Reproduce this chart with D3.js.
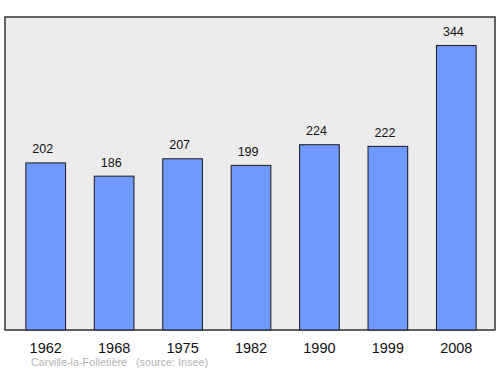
<!DOCTYPE html>
<html>
<head>
<meta charset="utf-8">
<script src="https://cdn.jsdelivr.net/npm/d3@7"></script>
<style>
  body { margin: 0; background: #fff; }
  text { font-family: "Liberation Sans", Arial, sans-serif; }
</style>
</head>
<body>
<svg id="chart" width="500" height="374"></svg>
<script>
// Population by census year
const years = ['1962', '1968', '1975', '1982', '1990', '1999', '2008'];
const population = [202, 186, 207, 199, 224, 222, 344];
const commune = 'Carville-la-Folletière';
const source = '(source: Insee)';

const svg = d3.select('#chart');
const frame = { left: 5, top: 17, right: 495, bottom: 330 };

// plot background with border
svg.append('rect')
    .attr('x', frame.left)
    .attr('y', frame.top)
    .attr('width', frame.right - frame.left)
    .attr('height', frame.bottom - frame.top)
    .attr('fill', '#ececec')
    .attr('stroke', '#333')
    .attr('stroke-width', 1.5);

const x = d3.scaleBand()
    .domain(years)
    .range([11.5, 490.5])
    .paddingInner(0.42)
    .paddingOuter(0.21);

const y = d3.scaleLinear()
    .domain([0, 378.4])
    .range([frame.bottom, frame.top]);

const data = years.map((yr, i) => ({ year: yr, value: population[i] }));

svg.selectAll('rect.bar')
    .data(data)
    .enter().append('rect')
    .attr('class', 'bar')
    .attr('x', d => x(d.year))
    .attr('y', d => y(d.value))
    .attr('width', x.bandwidth())
    .attr('height', d => y(0) - y(d.value))
    .attr('fill', '#7099ff')
    .attr('stroke', '#1a1a1a')
    .attr('stroke-width', 1);

// value labels above bars (start a bit inside the bar's left edge)
svg.selectAll('text.value')
    .data(data)
    .enter().append('text')
    .attr('class', 'value')
    .attr('x', d => x(d.year) + 6.5)
    .attr('y', d => y(d.value) - 9.5)
    .attr('font-size', '12.5px')
    .attr('fill', '#111')
    .text(d => d.value);

// year axis labels (no ticks, no domain line)
const xAxis = svg.append('g')
    .attr('transform', `translate(0,${frame.bottom})`)
    .call(d3.axisBottom(x).tickSize(0).tickPadding(12));
xAxis.select('.domain').remove();
xAxis.selectAll('text')
    .attr('font-family', '"Liberation Sans", Arial, sans-serif')
    .attr('font-size', '14.5px')
    .attr('fill', '#111')
    .attr('dy', null)
    .attr('y', 23);

// footer
svg.append('text')
    .attr('x', 31)
    .attr('y', 366)
    .attr('font-size', '10.8px')
    .attr('fill', '#b4b4b4')
    .text(commune);

svg.append('text')
    .attr('x', 136)
    .attr('y', 366)
    .attr('font-size', '10.8px')
    .attr('fill', '#b4b4b4')
    .text(source);
</script>
</body>
</html>
